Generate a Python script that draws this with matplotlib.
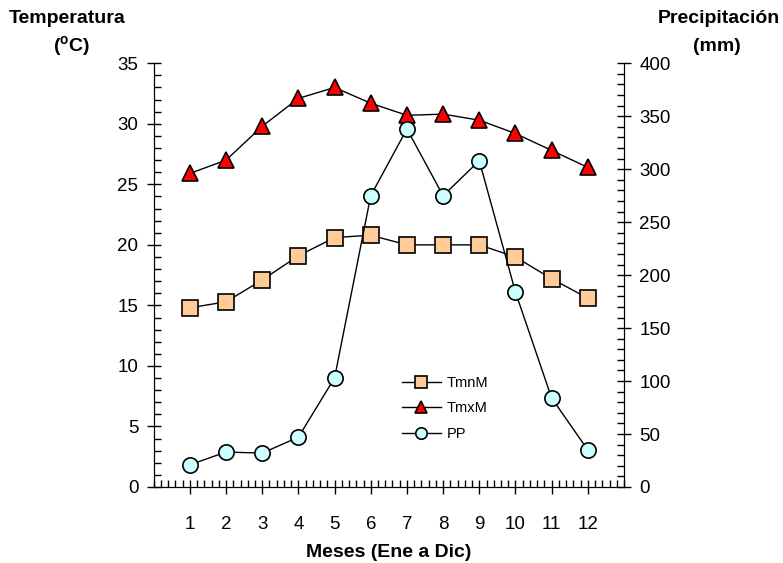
import matplotlib
matplotlib.use('Agg')
from matplotlib import pyplot as plt
from matplotlib.ticker import MultipleLocator
import numpy as np

plt.rcParams['font.family'] = ['Liberation Sans', 'DejaVu Sans']
plt.rcParams['mathtext.fontset'] = 'custom'
plt.rcParams['mathtext.rm'] = 'Liberation Sans:bold'

meses = np.arange(1, 13)
tmn = [14.8, 15.3, 17.1, 19.1, 20.6, 20.8, 20.0, 20.0, 20.0, 19.0, 17.2, 15.6]
tmx = [25.9, 27.0, 29.8, 32.1, 33.0, 31.7, 30.7, 30.8, 30.3, 29.2, 27.8, 26.4]
pp = [21, 33, 32, 47, 103, 275, 338, 275, 308, 184, 84, 35]

fig = plt.figure(figsize=(7.83, 5.63), dpi=100)
ax = fig.add_axes([0.1963, 0.135, 0.6006, 0.7526])
ax2 = ax.twinx()

l1, = ax.plot(meses, tmn, marker='s', color='black', mfc='#FFCC99', mec='black',
              markersize=11, lw=1, mew=1.2, label='TmnM')
l2, = ax.plot(meses, tmx, marker='^', color='black', mfc='#FF0000', mec='black',
              markersize=11, lw=1, mew=1.2, label='TmxM')
l3, = ax2.plot(meses, pp, marker='o', color='black', mfc='#CCFFFF', mec='black',
               markersize=11, lw=1, mew=1.2, label='PP')

ax.set_xlim(0, 13)
ax.set_ylim(0, 35)
ax2.set_ylim(0, 400)

ax.set_xticks(meses)
ax.xaxis.set_minor_locator(MultipleLocator(0.2))
ax.yaxis.set_major_locator(MultipleLocator(5))
ax.yaxis.set_minor_locator(MultipleLocator(1))
ax2.yaxis.set_major_locator(MultipleLocator(50))
ax2.yaxis.set_minor_locator(MultipleLocator(10))

for a in (ax, ax2):
    a.spines['top'].set_visible(False)
    a.tick_params(which='major', direction='inout', length=10, width=1, labelsize=13.5)
    a.tick_params(which='minor', direction='in', length=5, width=1)
ax.tick_params(axis='x', which='major', pad=16)
ax.tick_params(axis='y', which='major', pad=6)
ax2.tick_params(axis='y', which='major', pad=6)

ax.set_xlabel('Meses (Ene a Dic)', fontsize=14, fontweight='bold', labelpad=8)

fig.text(0.086, 0.968, 'Temperatura', fontsize=14, fontweight='bold',
         ha='center', va='center')
fig.text(0.092, 0.918, r'($^{\mathrm{o}}$C)', fontsize=14, fontweight='bold',
         ha='center', va='center')
fig.text(0.918, 0.968, 'Precipitación', fontsize=14, fontweight='bold',
         ha='center', va='center')
fig.text(0.916, 0.918, '(mm)', fontsize=14, fontweight='bold',
         ha='center', va='center')

ax2.legend([l1, l2, l3], ['TmnM', 'TmxM', 'PP'], loc='upper left',
           bbox_to_anchor=(0.527, 0.262), frameon=False, fontsize=10.5,
           handlelength=2.7, handletextpad=0.4, labelspacing=0.78,
           markerscale=0.75, borderpad=0, borderaxespad=0)

fig.savefig('out.png', dpi=100)
